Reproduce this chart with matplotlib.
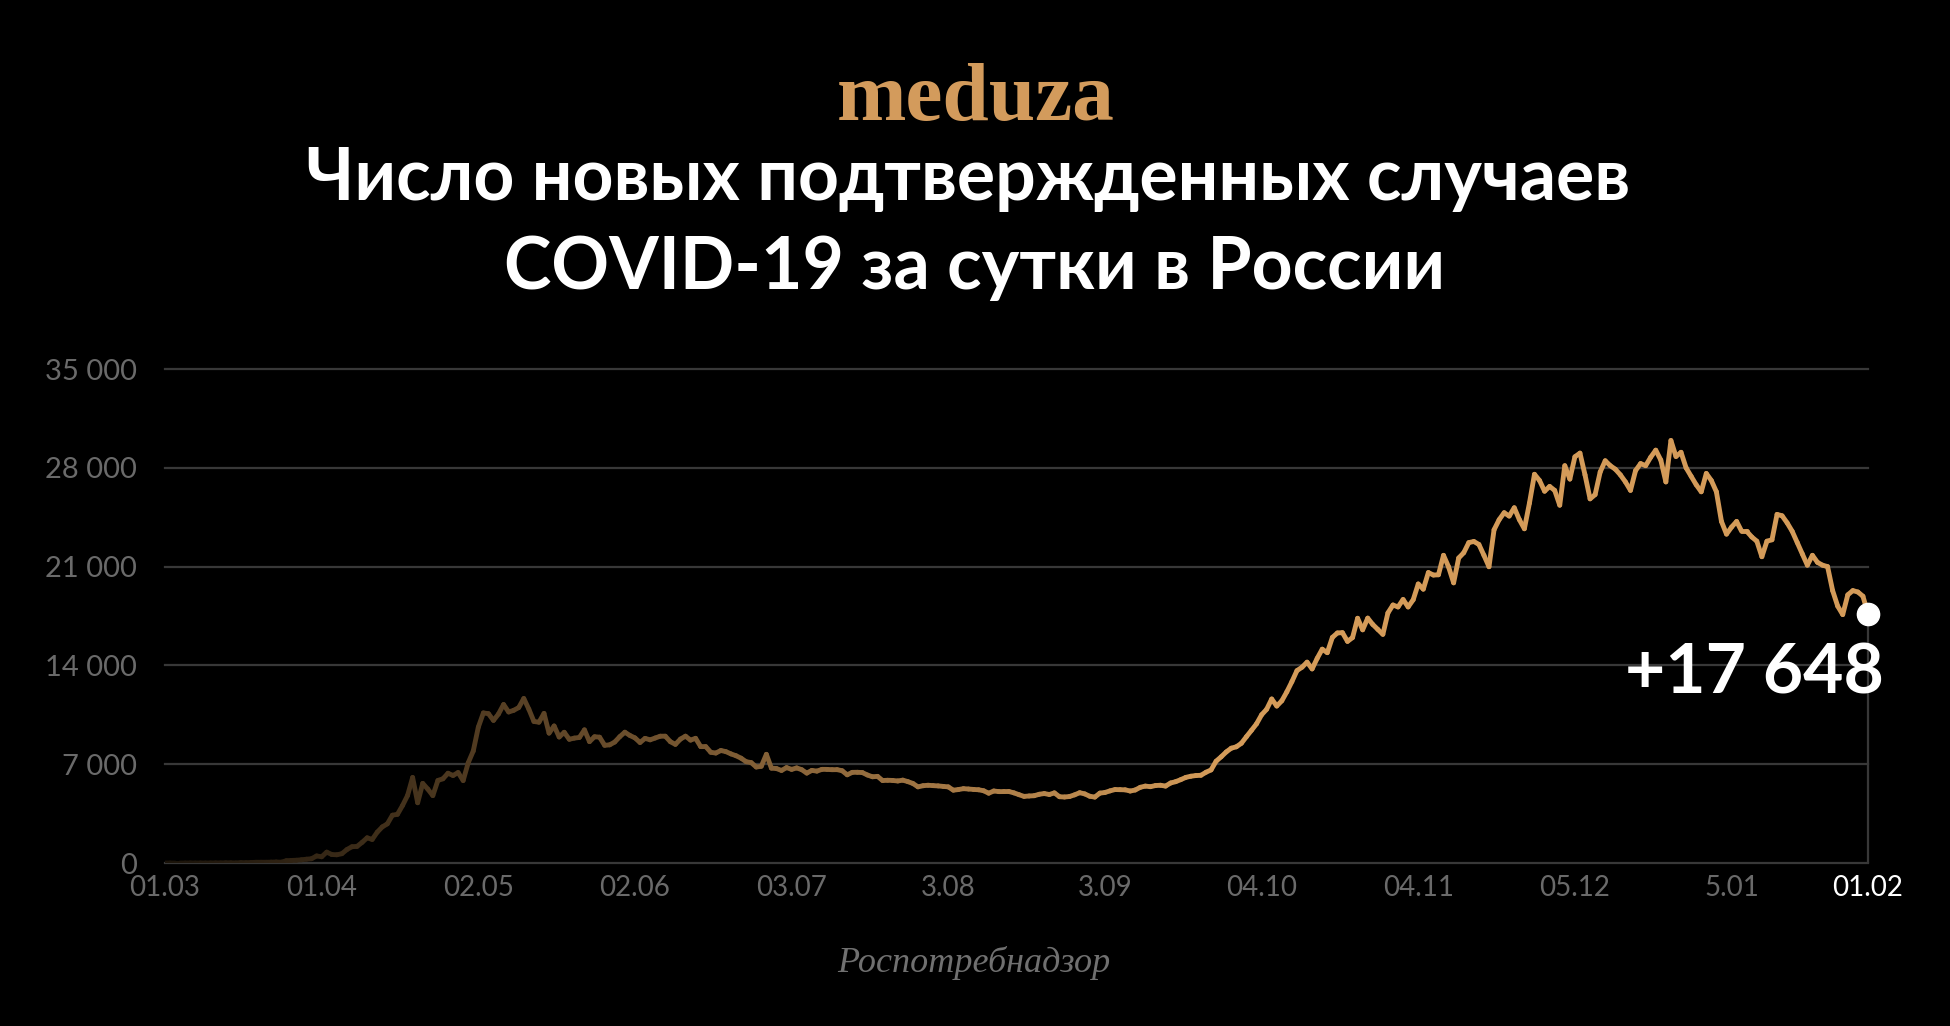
import numpy as np
import pandas as pd
import matplotlib
matplotlib.use("Agg")
import matplotlib.pyplot as plt
import matplotlib.dates as mdates
from matplotlib.collections import LineCollection
from matplotlib.colors import LinearSegmentedColormap

# новые случаи за сутки, по месяцам (оценка по графику)
mar = [0, 1, 0, 0, 1, 6, 1, 3, 0, 3, 8, 6, 17, 14, 4, 30, 21, 33, 52, 54,
       53, 61, 71, 57, 163, 182, 196, 228, 270, 302, 501]
apr = [440, 771, 601, 582, 658, 954, 1154, 1175, 1459, 1786, 1667, 2186, 2558,
       2774, 3388, 3448, 4070, 4785, 6060, 4268, 5642, 5236, 4774, 5849, 5966,
       6361, 6198, 6411, 5841, 7099]
may = [7933, 9623, 10633, 10581, 10102, 10559, 11231, 10699, 10817, 11012,
       11656, 10899, 10028, 9974, 10598, 9200, 9709, 8926, 9263, 8764, 8849,
       8894, 9434, 8599, 8946, 8915, 8338, 8371, 8572, 8952, 9268]
jun = [9035, 8863, 8536, 8831, 8726, 8855, 8984, 8985, 8595, 8404, 8779, 8987,
       8706, 8835, 8246, 8248, 7843, 7790, 7972, 7889, 7728, 7600, 7425, 7176,
       7113, 6800, 6852, 7700, 6719, 6693]
jul = [6556, 6760, 6632, 6736, 6611, 6368, 6562, 6509, 6635, 6632, 6611, 6615,
       6537, 6248, 6422, 6428, 6406, 6234, 6109, 6139, 5842, 5862, 5848, 5811,
       5871, 5765, 5635, 5395, 5475, 5509, 5482]
aug = [5462, 5427, 5394, 5159, 5204, 5267, 5241, 5212, 5189, 5118, 4945, 5102,
       5057, 5061, 5065, 4969, 4839, 4718, 4748, 4767, 4870, 4921, 4852, 4969,
       4696, 4676, 4711, 4829, 4980, 4897, 4729]
sep = [4670, 4952, 4995, 5110, 5205, 5195, 5185, 5099, 5172, 5363, 5449, 5406,
       5488, 5509, 5449, 5670, 5762, 5905, 6065, 6148, 6196, 6215, 6431, 6595,
       7212, 7523, 7867, 8135, 8232, 8481]
oct_ = [8950, 9400, 9860, 10500, 10890, 11620, 11120, 11490, 12130, 12850,
        13630, 13870, 14230, 13750, 14500, 15150, 14900, 15980, 16300, 16320,
        15700, 15970, 17340, 16520, 17350, 16900, 16550, 16200, 17720, 18280,
        18140]
nov = [18670, 18140, 18650, 19770, 19400, 20580, 20400, 20420, 21800, 20980,
       19850, 21610, 21980, 22700, 22780, 22570, 21800, 20990, 23610, 24320,
       24820, 24580, 25170, 24330, 23680, 25490, 27540, 27100, 26340, 26680]
dec = [26400, 25350, 28150, 27200, 28780, 29040, 27500, 25800, 26100, 27700,
       28500, 28150, 27900, 27500, 27000, 26400, 27800, 28300, 28150, 28750,
       29250, 28550, 27000, 29935, 28800, 29100, 28000, 27400, 26800, 26300,
       27600]
jan = [27100, 26300, 24200, 23300, 23800, 24200, 23500, 23500, 23100, 22800,
       21700, 22800, 22900, 24700, 24600, 24100, 23500, 22700, 21900, 21100,
       21800, 21300, 21100, 21000, 19300, 18200, 17600, 19000, 19300, 19200,
       18900]
feb = [17648]

cases = np.array(mar + apr + may + jun + jul + aug + sep + oct_ + nov + dec + jan + feb)
dates = pd.date_range("2020-03-01", "2021-02-01", freq="D")

y_ticks = [0, 7000, 14000, 21000, 28000, 35000]
y_labels = ["0", "7 000", "14 000", "21 000", "28 000", "35 000"]
x_tick_dates = ["2020-03-01", "2020-04-01", "2020-05-02", "2020-06-02",
                "2020-07-03", "2020-08-03", "2020-09-03", "2020-10-04",
                "2020-11-04", "2020-12-05", "2021-01-05", "2021-02-01"]
x_tick_labels = ["01.03", "01.04", "02.05", "02.06", "03.07", "3.08", "3.09",
                 "04.10", "04.11", "05.12", "5.01", "01.02"]

SANS = ["Lato", "Noto Sans", "DejaVu Sans"]
GOLD = "#d49b59"
GRID = "#383838"
plt.rcParams["font.family"] = SANS

W, H = 1950, 1026
fig = plt.figure(figsize=(W / 100, H / 100), dpi=100, facecolor="black")
ax = fig.add_axes([165 / W, (H - 863) / H, (1868 - 165) / W, (863 - 369) / H])
ax.set_facecolor("black")

# линия с градиентом от тёмного к золотому
x = mdates.date2num(dates)
pts = np.column_stack([x, cases])
segs = np.stack([pts[:-1], pts[1:]], axis=1)
t = ((x[:-1] + x[1:]) / 2 - x[0]) / (x[-1] - x[0])
cmap = LinearSegmentedColormap.from_list("grad", ["#1a130a", GOLD])
colors = cmap(np.clip(t / 0.62, 0, 1))
lc = LineCollection(segs, colors=colors, linewidths=3.5, capstyle="round",
                    joinstyle="round", zorder=3)
ax.add_collection(lc)

ax.set_xlim(dates[0], dates[-1])
ax.set_ylim(0, 35000)

ax.set_yticks(y_ticks)
ax.set_yticklabels(y_labels)
ax.set_xticks(pd.to_datetime(x_tick_dates))
ax.set_xticklabels(x_tick_labels)
ax.tick_params(axis="both", length=0, labelsize=20, colors="#6a6a6a")
ax.tick_params(axis="y", pad=20, labelsize=21)
ax.tick_params(axis="x", pad=9)
ax.get_xticklabels()[-1].set_color("white")

ax.yaxis.grid(True, color=GRID, linewidth=1.6)
ax.xaxis.grid(False)
for gl in ax.get_ygridlines():
    gl.set_clip_on(False)
for s in ax.spines.values():
    s.set_visible(False)

# последняя точка
ax.vlines(dates[-1], 0, cases[-1], color=GRID, linewidth=1.6, zorder=2, clip_on=False)
ax.plot(dates[-1], cases[-1], "o", color="white", markersize=16, zorder=5, clip_on=False)
last_label = "+" + f"{cases[-1]:,}".replace(",", " ")
ax.annotate(last_label, xy=(dates[-1], cases[-1]), xytext=(11.5, -57.6),
            textcoords="offset points", ha="right", va="baseline",
            fontsize=50, fontweight="bold", color="white", zorder=6)

# шапка
fig.text(976 / W, 1 - 120 / H, "meduza", ha="center", va="baseline",
         fontsize=60, fontweight="bold", color="#d39b5c",
         family=["Liberation Serif", "DejaVu Serif"])
fig.text(968 / W, 1 - 200 / H, "Число новых подтвержденных случаев",
         ha="center", va="baseline", fontsize=51.5, fontweight="bold", color="white")
fig.text(975 / W, 1 - 289 / H, "COVID-19 за сутки в России",
         ha="center", va="baseline", fontsize=51.5, fontweight="bold", color="white")

fig.text(974 / W, 1 - 972 / H, "Роспотребнадзор", ha="center", va="baseline",
         fontsize=26, style="italic", color="#707070",
         family=["Liberation Serif", "DejaVu Serif"])

fig.savefig("out.png", dpi=100, facecolor="black")
